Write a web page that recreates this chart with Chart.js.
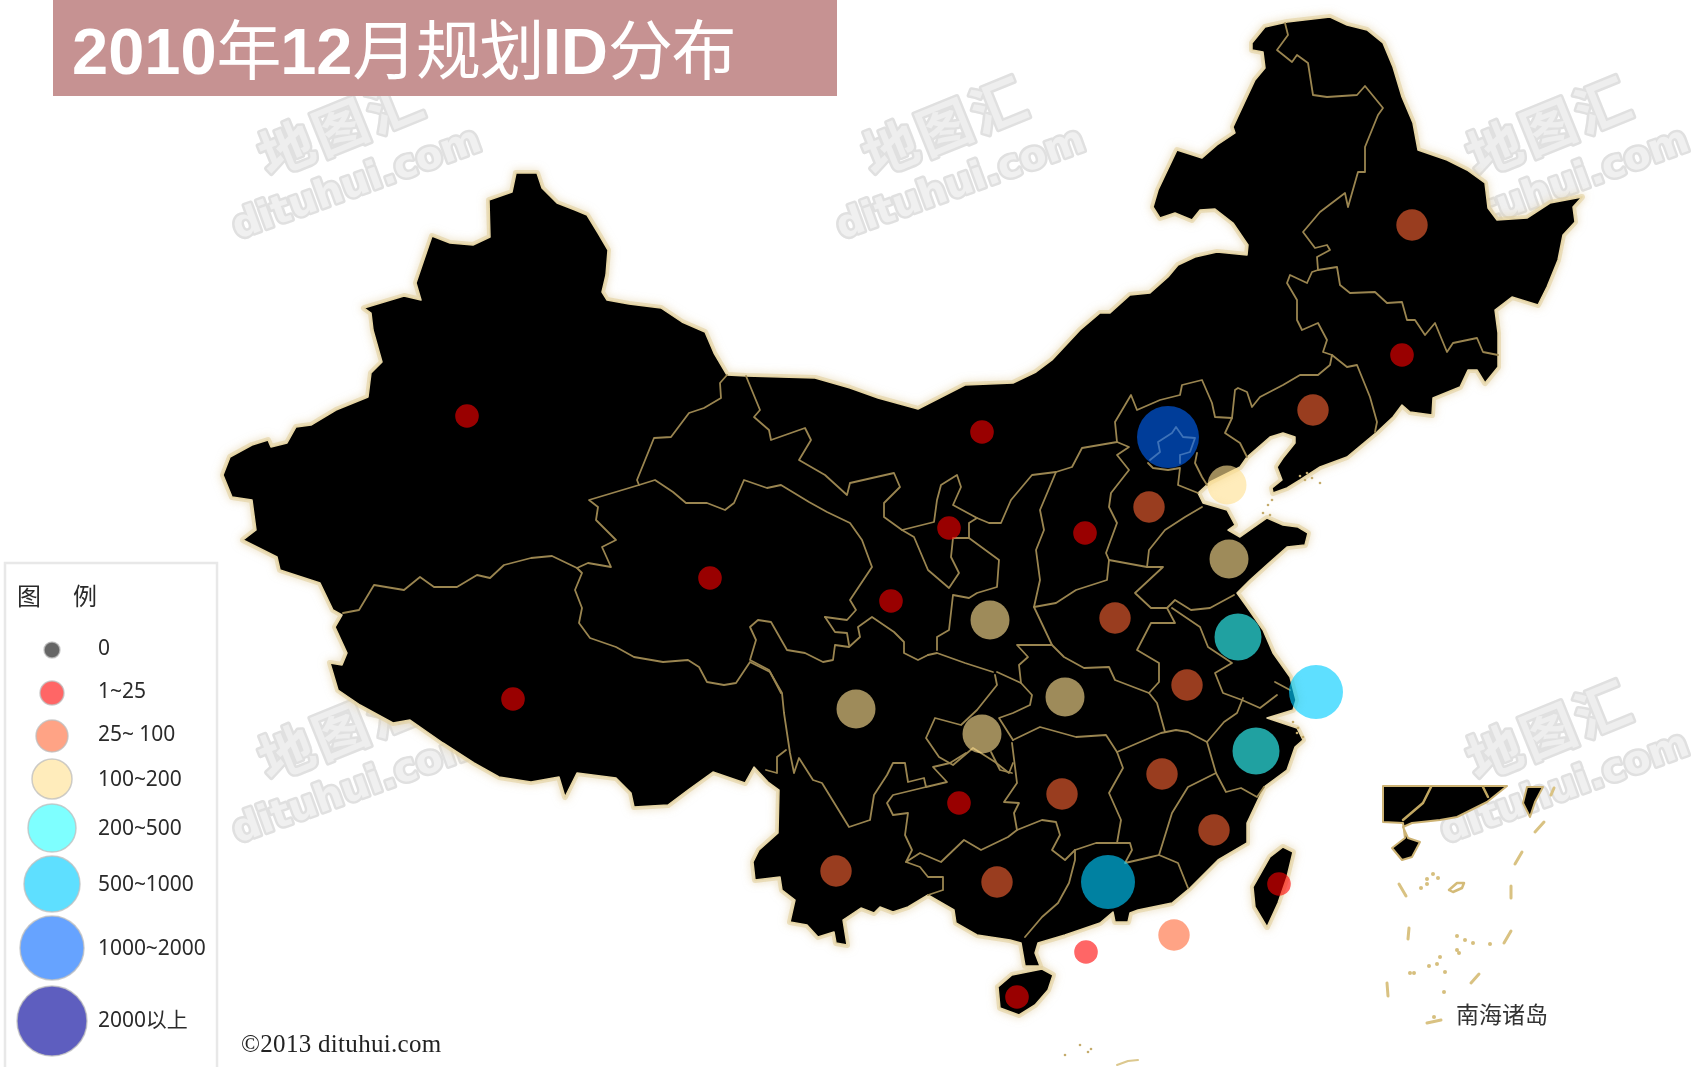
<!DOCTYPE html>
<html><head><meta charset="utf-8">
<style>
html,body{margin:0;padding:0;background:#fff;width:1697px;height:1067px;overflow:hidden}
#wrap{position:relative;width:1697px;height:1067px}
canvas{position:absolute;left:0;top:0}
#banner{position:absolute;left:53px;top:0;width:784px;height:96px;background:#c69292;z-index:2}
#title{position:absolute;left:19px;top:8px;white-space:nowrap;color:#fff;font:400 65px/76px "Noto Sans CJK SC","Liberation Sans",sans-serif;letter-spacing:-1.5px}
#title b{font:700 65px/76px "Liberation Sans",sans-serif;letter-spacing:0}
</style></head>
<body><div id="wrap">
<canvas id="c" width="1697" height="1067"></canvas>
<div id="banner"><div id="title"><b>2010</b>年<b>12</b>月规划<b>ID</b>分布</div></div>
</div>
<script src="https://cdn.jsdelivr.net/npm/chart.js@4"></script>
<script>
// ---------- values ----------
const legendLabels=['0','1~25','25~ 100','100~200','200~500','500~1000','1000~2000','2000以上'];
const legendY=[650,693,736,779,828,884,948,1021];
const legendX=[52,52,52,52,52,52,52,52];
const provinces=['新疆','西藏','青海','甘肃','宁夏','内蒙古','陕西','山西','河北','北京','天津','山东','河南','江苏','上海','浙江','安徽','湖北','重庆','四川','贵州','云南','湖南','江西','福建','广东','广西','海南','台湾','香港','澳门','辽宁','吉林','黑龙江'];
const provinceX=[467,513,710,891,949,982,990,1085,1149,1168,1227,1229,1115,1238,1316,1256,1187,1065,982,856,959,836,1062,1162,1214,1108,997,1017,1279,1174,1086,1313,1402,1412];
const provinceY=[416,699,578,601,528,432,620,533,507,437,485,559,618,637,692,751,685,697,734,709,803,871,794,774,830,882,882,997,884,935,952,410,355,225];
const provinceClass=[1,1,1,1,1,1,3,1,2,6,3,3,2,4,5,4,2,3,3,3,1,2,2,2,2,5,2,1,1,2,1,2,1,2];
const classRadius=[8,12,16,20,24,28,32,35];
const mapRadius=[8,11.8,15.7,19.5,23.5,27,31,35];
const classColors=['rgba(0,0,0,.6)','rgba(255,0,0,.6)','rgba(255,102,51,.6)','rgba(255,225,145,.62)','rgba(51,255,255,.63)','rgba(0,204,255,.63)','rgba(0,102,255,.6)','rgba(0,0,153,.63)'];

const outerMain=[516,173,537,173,542,188,557,203,575,210,587,215,598,233,608,250,606,275,602,292,607,300,629,304,661,308,682,322,705,332,714,353,727,375,746,376,815,378,850,388,878,398,918,409,965,385,1013,383,1036,372,1052,360,1080,330,1100,313,1110,313,1130,295,1150,293,1168,277,1178,265,1195,257,1217,252,1247,255,1248,245,1233,223,1215,209,1200,210,1192,220,1175,213,1160,218,1153,207,1158,190,1177,150,1202,158,1217,145,1235,133,1233,127,1247,97,1255,80,1265,68,1263,52,1252,50,1252,43,1265,27,1287,22,1330,17,1347,25,1367,30,1383,43,1393,67,1402,97,1413,123,1418,150,1447,160,1467,170,1485,183,1488,208,1497,220,1527,218,1550,203,1582,197,1573,207,1575,222,1563,235,1558,260,1547,287,1538,305,1512,297,1495,310,1498,333,1498,367,1485,383,1477,370,1468,370,1460,387,1433,398,1432,415,1410,412,1402,405,1393,417,1377,432,1347,457,1320,467,1300,480,1287,488,1273,493,1272,488,1282,480,1277,467,1283,458,1295,443,1295,437,1283,433,1270,437,1247,457,1240,467,1210,482,1198,493,1203,503,1227,510,1235,525,1228,530,1240,537,1267,518,1283,525,1298,527,1308,533,1305,545,1287,547,1270,562,1250,580,1237,593,1247,607,1263,630,1273,653,1290,677,1296,700,1293,710,1267,718,1297,728,1303,740,1295,747,1287,770,1264,787,1247,823,1247,843,1218,860,1190,888,1172,903,1138,910,1130,913,1128,922,1115,922,1113,912,1100,923,1065,935,1038,943,1035,953,1040,966,1025,966,1021,943,1010,940,977,935,956,923,954,910,928,895,908,907,893,912,880,907,874,913,861,908,843,920,847,945,836,943,834,932,818,937,807,925,790,922,795,900,782,890,780,877,755,880,753,862,759,850,778,833,779,790,768,782,754,767,745,783,713,772,688,790,668,805,634,807,631,793,616,778,577,773,565,797,559,777,531,782,499,777,474,763,443,743,410,720,393,723,360,705,338,690,330,663,342,665,347,653,335,627,342,615,333,610,320,583,280,570,277,557,243,540,256,530,252,500,232,497,223,475,230,457,252,445,268,440,271,447,287,443,296,427,311,425,336,410,368,397,371,373,382,362,373,330,371,313,364,308,404,296,421,300,416,283,432,236,450,243,473,245,490,237,489,200,512,192];
const outerHainan=[998,987,1012,975,1042,969,1053,975,1048,990,1035,1005,1019,1015,1000,1008];
const outerTaiwan=[1253,887,1270,857,1283,847,1293,852,1287,877,1278,903,1267,927,1255,907];
const insetMain=[1383,786,1507,786,1487,802,1457,817,1440,820,1412,823,1403,827,1408,838,1420,842,1412,857,1402,860,1392,848,1405,838,1403,823,1383,822];
const insetTaiwan=[1527,787,1543,787,1535,802,1530,817,1523,803];
const insetRing=[1449,890,1457,883,1464,883,1462,888,1453,892];

const borders=[
[727,375,720,383,721,398,704,408,689,413,671,437,654,438,637,480,639,485,589,500,598,507,596,520,616,540,602,547,611,567,588,563,577,568,552,556,531,558,504,565,490,578,477,575,457,587,434,587,420,577,404,590,374,585,359,610,343,613],
[577,568,582,573,575,590,582,608,579,623,590,638,616,647,634,657,663,662,688,660,699,667,707,682,724,685,736,683,750,662,770,672,782,693,784,713,790,753,794,773,799,758,813,780,822,783,849,827,870,820,874,795,887,775,893,763,905,763,908,782,924,778,926,787,947,782,933,767,950,763,966,753],
[786,750,777,757,777,773,766,770],
[926,787,893,795,887,803,893,815,908,813,905,835,912,850,906,862,920,853,941,862,964,840,981,850,1008,837,1017,830,1014,813,1019,803,1004,802,1017,783,1012,743],
[1012,773,1000,770,991,752],
[906,862,920,867,928,877,943,877,943,890,928,895],
[1017,830,1042,820,1056,822,1060,835,1052,850,1065,860,1075,850,1096,843,1117,843,1130,843,1132,850,1125,863,1151,857,1159,855,1178,863,1188,888],
[1075,850,1075,860,1069,883,1058,903,1042,917,1025,937],
[1117,843,1121,820,1109,793,1123,768,1117,752,1161,733,1176,730,1188,732,1207,742,1224,722,1237,713,1243,698],
[1159,855,1172,813,1188,787,1216,773,1207,742],
[1216,773,1226,792,1241,788,1257,797,1264,787],
[1013,740,1040,727,1076,737,1106,735,1117,752],
[1165,732,1157,703,1149,693,1159,682,1159,663,1137,650,1151,623,1175,623,1167,608],
[1052,645,1064,657,1084,668,1109,667,1115,680,1149,693],
[1052,645,1017,645,1028,657,1019,665,1021,683,997,672],
[1021,683,1032,695,1030,705,1013,713,999,718,1013,740],
[995,675,997,685,977,710,961,725,935,718,926,738,939,757,953,765,973,748,995,762,1009,773,1013,763],
[928,655,937,653,965,663,993,672],
[928,655,918,660,904,653,904,642,894,632,872,617,858,627,860,637,849,647,835,645,833,660,823,662,805,653,787,650,771,622,758,620,750,627,756,640,750,660,769,670,781,693],
[825,617,847,620,856,610,850,600,872,567,862,540,850,523,827,512,809,502,781,485,767,488,744,480,734,503,725,510,707,503,686,503,673,492,655,480,639,485],
[825,617,835,632,847,633,849,645],
[746,376,760,410,754,417,769,430,771,440,805,428,811,440,799,460,825,475,847,495,850,483,894,473,900,487,884,503,884,517,902,530,934,522,937,500,941,485,957,475,961,487,953,505,977,518,989,523,1001,523,1011,500,1032,475,1056,472,1072,467,1082,448,1117,442,1115,422,1131,395,1137,410,1160,400,1180,395,1182,385,1202,380,1212,403,1215,417,1232,418,1225,433,1240,443,1247,457],
[902,530,914,537,928,570,949,588,959,573,951,557,953,538,969,538,969,523,977,518],
[969,538,999,560,997,587,977,593,969,598,953,595,949,630,937,637,937,650],
[1056,472,1040,510,1044,530,1036,550,1040,580,1034,607,1052,645],
[1034,607,1056,603,1076,590,1107,580,1109,560,1147,567,1163,567,1135,593,1151,608,1167,608,1175,600,1191,610,1210,608,1234,595],
[1117,442,1129,447,1117,455,1129,470,1111,493,1109,507,1117,523,1106,553,1109,560],
[1147,567,1149,550,1165,530,1185,517,1202,507],
[1172,608,1200,627,1208,647,1232,663,1215,673,1223,693,1242,700,1260,708,1277,695],
[1148,463,1153,468,1168,470,1180,468,1178,485,1198,493],[1197,453,1195,463,1202,477,1207,485],
[1150,460,1160,452,1158,442,1172,433,1176,427,1183,437,1195,438,1190,452,1180,455,1180,463],
[1232,418,1235,390,1238,388,1247,392,1252,407,1260,397,1283,385,1300,375,1318,375,1330,365,1332,355,1347,367,1357,365,1370,397,1377,422,1375,432],
[1332,355,1323,352,1327,340,1318,323,1302,330,1297,320,1297,300,1287,283,1290,275,1307,283,1312,272,1318,270,1337,267,1340,285,1350,293,1375,292,1387,303,1402,302,1407,320,1415,320,1425,335,1435,323,1447,352,1453,343,1477,338,1483,352,1498,355],
[1318,270,1317,257,1330,250,1327,245,1315,248,1303,232,1320,212,1345,193,1348,207,1358,172,1365,172,1365,147,1378,115,1383,108,1365,86,1357,95,1327,97,1313,95,1308,63,1297,55,1292,62,1277,50,1288,35,1285,23],
[1275,682,1290,690]
];
const insetBorders=[[1431,787,1423,803,1403,820],[1483,787,1488,797]];
const insetDashes=[[1399,884,1406,896],[1409,928,1408,939],[1387,983,1388,996],[1427,1023,1441,1020],[1471,983,1479,974],[1504,943,1511,931],[1511,886,1511,898],[1515,864,1522,852],[1535,832,1544,822],[1551,795,1554,788]];
const insetDots=[1427,879,1433,874,1438,878,1421,888,1427,884,1457,936,1465,940,1473,943,1490,944,1457,950,1459,953,1440,957,1429,966,1437,964,1445,972,1410,973,1414,973,1444,992,1434,1017];
const islands=[1300,476,1307,473,1312,478,1320,483,1305,480,1263,513,1268,505,1272,500,1270,515,1293,722,1298,728,1303,737,1297,733,1080,1045,1065,1055,1088,1052,1091,1049];
const lowerDash=[1117,1065,1128,1061,1138,1060];
const wmCols=[0,604,1208];

// ---------- helpers ----------
const pts=a=>{const r=[];for(let i=0;i<a.length;i+=2)r.push({x:a[i],y:a[i+1]});return r;};
const line=(a,o)=>Object.assign({type:'scatter',showLine:true,data:pts(a),pointRadius:0,fill:false,tension:0,clip:false,borderCapStyle:'round',borderJoinStyle:'round'},o);
const close=a=>a.concat(a.slice(0,2));
const ds=[];
classColors.forEach((col,k)=>{
  const d=[];provinces.forEach((p,i)=>{if(provinceClass[i]===k)d.push({x:provinceX[i],y:provinceY[i],r:mapRadius[k]});});
  if(d.length)ds.push({type:'bubble',label:legendLabels[k],data:d,backgroundColor:col,borderWidth:0,order:0,clip:false});
});
legendLabels.forEach((l,k)=>ds.push({type:'bubble',label:'图例 '+l,data:[{x:legendX[k],y:legendY[k],r:classRadius[k]}],backgroundColor:classColors[k],borderColor:'rgba(190,190,190,.75)',borderWidth:1.5,order:0,clip:false}));
borders.forEach(b=>ds.push(line(b,{borderColor:'#9a8550',borderWidth:1.8,order:1})));
insetBorders.forEach(b=>ds.push(line(b,{borderColor:'#c2a862',borderWidth:2.5,order:1})));
insetDashes.forEach(b=>ds.push(line(b,{borderColor:'#d9c282',borderWidth:3,order:1})));
ds.push(line(insetRing.concat(insetRing.slice(0,2)),{borderColor:'#d4bb78',borderWidth:2.5,order:1}));
ds.push(line(lowerDash,{borderColor:'#dcc88e',borderWidth:2,order:1}));
ds.push({type:'scatter',data:pts(insetDots),pointRadius:2,backgroundColor:'#d6bf7e',borderWidth:0,order:1,clip:false});
ds.push({type:'scatter',data:pts(islands),pointRadius:1.3,backgroundColor:'#c4ab6c',borderWidth:0,order:1,clip:false});
[outerMain,outerHainan,outerTaiwan].forEach(p=>{
  ds.push(line(close(p),{borderColor:'#e6d5a4',borderWidth:1.5,polyFill:'#000',order:2}));
  ds.push(line(close(p),{borderColor:'rgba(226,208,158,.6)',borderWidth:6,glow:true,order:3}));
});
[insetMain,insetTaiwan].forEach(p=>ds.push(line(close(p),{borderColor:'#cdb374',borderWidth:2,polyFill:'#000',order:2})));

const paper={id:'paper',
 beforeDatasetsDraw(ch){
  const c=ch.ctx,x=ch.scales.x,y=ch.scales.y;
  c.save();
  const marks=[[0,0],[1,0],[2,0],[0,1],[1,1],[2,1]];
  marks.forEach(([i,j])=>{
    const ox=wmCols[i],oy=j*604;
    c.save();c.translate(x.getPixelForValue(342+ox),y.getPixelForValue(126+oy));c.rotate(-22*Math.PI/180);
    c.textAlign='center';c.textBaseline='middle';
    c.font='700 54px "Noto Sans CJK SC"';c.letterSpacing='4px';
    c.lineWidth=5;c.strokeStyle='#e0e0e0';c.fillStyle='#eeeeee';c.lineJoin='round';
    c.strokeText('地图汇',0,0);c.fillText('地图汇',0,0);
    c.restore();
    c.save();c.translate(x.getPixelForValue(357+ox),y.getPixelForValue(185+oy));c.rotate(-20*Math.PI/180);
    c.textAlign='center';c.textBaseline='middle';
    c.font='700 39px "DejaVu Sans"';c.letterSpacing='0px';
    c.lineWidth=5;c.strokeStyle='#e0e0e0';c.fillStyle='#f0f0f0';c.lineJoin='round';
    c.strokeText('dituhui.com',0,0);c.fillText('dituhui.com',0,0);
    c.restore();
  });
  c.fillStyle='#fff';c.strokeStyle='#e8e8e8';c.lineWidth=2.5;
  c.fillRect(x.getPixelForValue(5),y.getPixelForValue(563),212,510);
  c.strokeRect(x.getPixelForValue(5),y.getPixelForValue(563),212,510);
  c.restore();
 },
 beforeDatasetDraw(ch,args){
  const o=ch.data.datasets[args.index];
  const c=ch.ctx;
  if(o.polyFill){c.save();c.beginPath();args.meta.data.forEach((p,i)=>i?c.lineTo(p.x,p.y):c.moveTo(p.x,p.y));c.closePath();c.fillStyle=o.polyFill;c.fill();c.restore();}
  if(o.glow){c.save();c.shadowColor='rgba(218,196,140,.95)';c.shadowBlur=9;}
 },
 afterDatasetDraw(ch,args){ if(ch.data.datasets[args.index].glow) ch.ctx.restore(); },
 afterDatasetsDraw(ch){
  const c=ch.ctx,x=ch.scales.x,y=ch.scales.y;
  c.save();
  c.fillStyle='#2a2a2a';c.textBaseline='middle';c.textAlign='left';
  c.font='400 24px "Noto Sans CJK SC"';
  c.fillText('图',x.getPixelForValue(17),y.getPixelForValue(596));
  c.fillText('例',x.getPixelForValue(73),y.getPixelForValue(596));
  c.font='400 21px "Noto Sans","Noto Sans CJK SC"';c.letterSpacing='-0.05px';
  const ty=[649,692,735,780,829,885,949,1021];
  legendLabels.forEach((l,i)=>c.fillText(l,x.getPixelForValue(98),y.getPixelForValue(ty[i])));
  c.letterSpacing='0.3px';
  c.font='400 25px "Liberation Serif"';c.fillStyle='#222';
  c.fillText('©2013 dituhui.com',x.getPixelForValue(241),y.getPixelForValue(1045));
  c.letterSpacing='0px';
  c.font='400 23px "Noto Sans CJK SC"';c.fillStyle='#333';c.textAlign='center';
  c.fillText('南海诸岛',x.getPixelForValue(1502),y.getPixelForValue(1014));
  c.restore();
 }
};

new Chart(document.getElementById('c'),{
 data:{datasets:ds},
 plugins:[paper],
 options:{responsive:false,animation:false,layout:{padding:0,autoPadding:false},
  events:[],
  plugins:{legend:{display:false},tooltip:{enabled:false},title:{display:false}},
  scales:{x:{type:'linear',min:0,max:1697,display:false},y:{type:'linear',min:0,max:1067,reverse:true,display:false}}}
});
</script>
</body></html>
